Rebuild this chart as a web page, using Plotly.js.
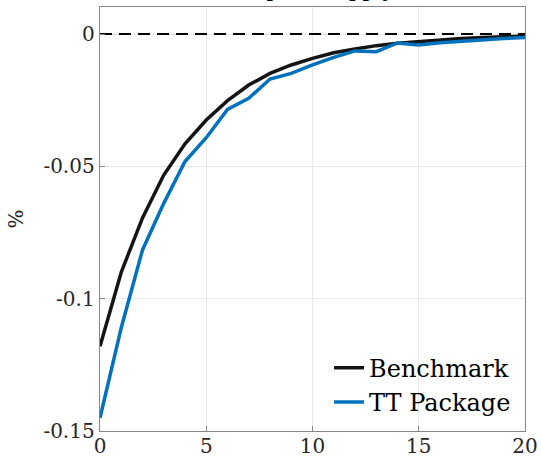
<!DOCTYPE html>
<html>
<head>
<meta charset="utf-8">
<script src="https://cdn.plot.ly/plotly-3.0.1.min.js"></script>
<style>html,body{margin:0;padding:0;background:#fff;}#chart{width:541px;height:463px;}</style>
</head>
<body>
<div id="chart"></div>
<script>
var periods = [0,1,2,3,4,5,6,7,8,9,10,11,12,13,14,15,16,17,18,19,20];
var benchmark = [-0.118,-0.090,-0.0695,-0.0533,-0.0415,-0.0325,-0.0252,-0.0193,-0.0149,-0.0117,-0.0092,-0.0071,-0.0057,-0.0044,-0.0035,-0.0028,-0.0022,-0.0017,-0.0013,-0.0010,-0.0008];
var ttPackage = [-0.145,-0.111,-0.0816,-0.064,-0.0482,-0.0392,-0.0285,-0.0243,-0.0170,-0.0149,-0.0117,-0.0088,-0.0064,-0.0067,-0.0034,-0.0042,-0.0033,-0.0027,-0.0021,-0.0017,-0.0013];
var yTickVals = [0,-0.05,-0.1,-0.15];
var yTickText = ['0','-0.05','-0.1','-0.15'];
var xTickVals = [0,5,10,15,20];
var titleText = 'Capital Supply';

var font = "DejaVu Serif";
var traces = [
  {x: periods, y: benchmark, mode: 'lines', name: 'Benchmark', line: {color: '#141414', width: 3.5}},
  {x: periods, y: ttPackage, mode: 'lines', name: 'TT Package', line: {color: '#0072BD', width: 3.5}},
  {x: [0,20], y: [0,0], mode: 'lines', showlegend: false, hoverinfo: 'skip', line: {color: '#000', width: 1.8, dash: '12px,7px'}}
];
var axisCommon = {
  showline: true, linecolor: '#868686', linewidth: 1.3, mirror: true,
  showgrid: true, gridcolor: '#e8e8e8', gridwidth: 1,
  zeroline: false, ticks: 'inside', ticklen: 5, tickcolor: '#868686',
  tickfont: {family: font, size: 20, color: '#262626'}
};
var layout = {
  width: 541, height: 463,
  margin: {l: 100, r: 16, t: 7, b: 32},
  paper_bgcolor: '#fff', plot_bgcolor: '#fff',
  showlegend: true,
  legend: {x: 0.979, y: 0.015, xanchor: 'right', yanchor: 'bottom', bgcolor: 'rgba(0,0,0,0)',
           font: {family: font, size: 24, color: '#000'}, tracegroupgap: 0, itemwidth: 30},
  xaxis: Object.assign({}, axisCommon, {range: [0,20], tickvals: xTickVals, ticktext: xTickVals.map(String), ticklabelstandoff: -3}),
  yaxis: Object.assign({}, axisCommon, {range: [-0.15, 0.0102], tickvals: yTickVals, ticktext: yTickText,
          title: {text: '%', font: {family: font, size: 20, color: '#262626'}, standoff: 14}}),
  annotations: [{text: titleText, xref: 'paper', yref: 'paper', x: 0.51, y: 1, yshift: 3, yanchor: 'bottom',
                 showarrow: false, font: {family: font, size: 21, color: '#000'}}]
};
Plotly.newPlot('chart', traces, layout, {staticPlot: true, displayModeBar: false});
</script>
</body>
</html>
